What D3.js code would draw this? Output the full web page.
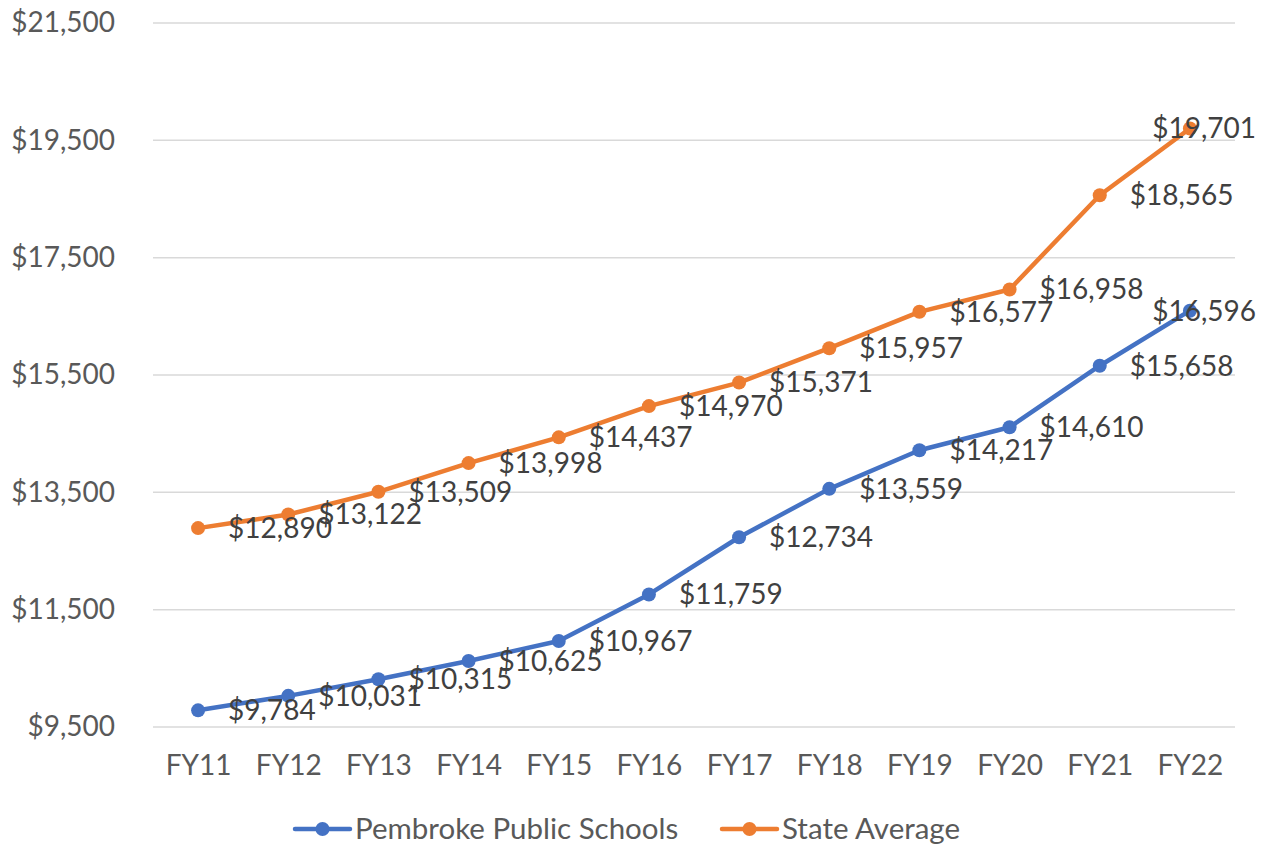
<!DOCTYPE html>
<html><head><meta charset="utf-8">
<script src="https://cdn.jsdelivr.net/npm/d3@7"></script>
<style>body{margin:0;background:#fff;} svg{display:block;font-family:Lato,"Open Sans",sans-serif;}</style>
</head><body>
<svg id="c" width="1261" height="845"></svg>
<script>
const categories = ["FY11","FY12","FY13","FY14","FY15","FY16","FY17","FY18","FY19","FY20","FY21","FY22"];
const pembroke = [9784,10031,10315,10625,10967,11759,12734,13559,14217,14610,15658,16596];
const stateAvg = [12890,13122,13509,13998,14437,14970,15371,15957,16577,16958,18565,19701];
const yTicks = [9500,11500,13500,15500,17500,19500,21500];
const seriesNames = ["Pembroke Public Schools","State Average"];
const colors = ["#4472C4","#ED7D31"];

const svg = d3.select("#c");
const L = 153, R = 1235, T = 23, B = 727;
const x = d3.scalePoint().domain(categories).range([L, R]).padding(0.5);
const y = d3.scaleLinear().domain([9500, 21500]).range([B, T]);
const fmt = v => "$" + d3.format(",")(v);
const FS = 28;

// gridlines
svg.append("g").selectAll("line").data(yTicks).join("line")
  .attr("x1", L).attr("x2", R).attr("y1", d => y(d)).attr("y2", d => y(d))
  .attr("stroke", "#D9D9D9").attr("stroke-width", 1.5);

// y axis labels
const yAxis = svg.append("g").attr("transform", `translate(${L - 38},0)`)
  .call(d3.axisLeft(y).tickValues(yTicks).tickFormat(fmt).tickSize(0));
yAxis.select(".domain").remove();
yAxis.selectAll("text").attr("x", 0).attr("fill", "#595959").style("font-size", FS + "px").style("font-family", "Lato");

// x axis labels
const xAxis = svg.append("g").attr("transform", `translate(0,${B})`)
  .call(d3.axisBottom(x).tickSize(0));
xAxis.select(".domain").remove();
xAxis.selectAll("text").attr("y", 28).attr("fill", "#595959").style("font-size", FS + "px").style("font-family", "Lato");

const series = [pembroke, stateAvg];
const line = d3.line().x((d, i) => x(categories[i])).y(d => y(d));
series.forEach((vals, s) => {
  const g = svg.append("g");
  g.append("path").datum(vals).attr("d", line).attr("fill", "none")
    .attr("stroke", colors[s]).attr("stroke-width", 4.5).attr("stroke-linejoin", "round").attr("stroke-linecap", "round");
  g.selectAll("circle").data(vals).join("circle")
    .attr("cx", (d, i) => x(categories[i])).attr("cy", d => y(d)).attr("r", 7).attr("fill", colors[s]);
});
// data labels
series.forEach((vals, s) => {
  const g = svg.append("g");
  g.selectAll("text").data(vals).join("text")
    .attr("x", (d, i) => x(categories[i]) + 30).attr("y", d => y(d))
    .attr("dy", "0.35em").attr("fill", "#404040").style("font-size", FS + "px")
    .text(fmt)
    .each(function(d, i) {
      const w = this.getComputedTextLength();
      const px = x(categories[i]) + 30;
      if (px + w > 1256) { d3.select(this).attr("x", 1256).attr("text-anchor", "end"); }
    });
});

// legend
const legX = [295, 722];
const lg = svg.append("g");
seriesNames.forEach((n, s) => {
  const gx = legX[s], gy = 829;
  lg.append("line").attr("x1", gx).attr("x2", gx + 55).attr("y1", gy).attr("y2", gy)
    .attr("stroke", colors[s]).attr("stroke-width", 4.5).attr("stroke-linecap", "round");
  lg.append("circle").attr("cx", gx + 27.5).attr("cy", gy).attr("r", 7).attr("fill", colors[s]);
  lg.append("text").attr("x", gx + 60).attr("y", gy).attr("dy", "0.35em")
    .attr("fill", "#595959").style("font-size", "29.5px").text(n);
});
</script>
</body></html>
